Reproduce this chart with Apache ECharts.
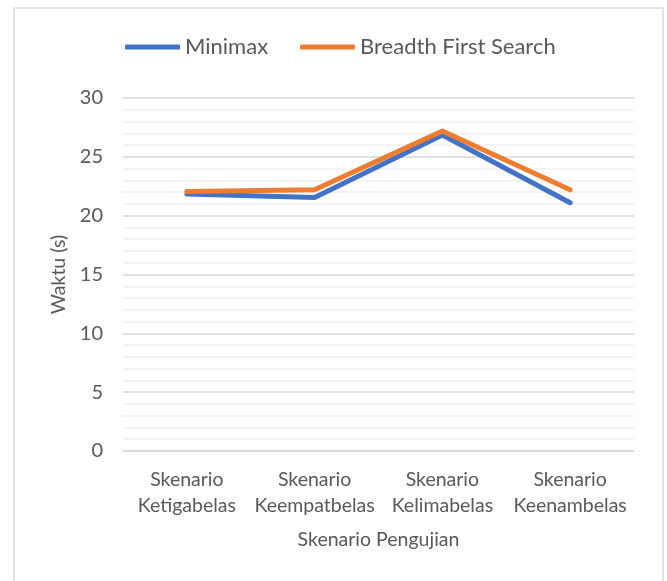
<!DOCTYPE html>
<html>
<head>
<meta charset="utf-8">
<script src="https://cdn.jsdelivr.net/npm/echarts@6/dist/echarts.min.js"></script>
<style>
html,body{margin:0;padding:0;background:#fff;}
#chart{width:667px;height:581px;}
</style>
</head>
<body>
<div id="chart"></div>
<script>
var categories = ['Skenario\nKetigabelas', 'Skenario\nKeempatbelas', 'Skenario\nKelimabelas', 'Skenario\nKeenambelas'];
var minimaxValues = [21.85, 21.55, 26.85, 21.1];
var bfsValues = [22.05, 22.2, 27.2, 22.2];
var seriesNames = ['Minimax', 'Breadth First Search'];
var xAxisTitle = 'Skenario Pengujian';
var yAxisTitle = 'Waktu (s)';

var FONT = 'Lato';
var TXT = '#595959';
var chart = echarts.init(document.getElementById('chart'));
chart.setOption({
  animation: false,
  backgroundColor: '#ffffff',
  graphic: [{
    type: 'rect', z: -10,
    shape: {x: 14, y: 8, width: 649, height: 600},
    style: {fill: '#ffffff', stroke: '#d9d9d9', lineWidth: 1.5}
  }],
  legend: {
    left: 120, top: 31,
    itemWidth: 55, itemHeight: 5, itemGap: 32,
    icon: 'roundRect',
    textStyle: {fontFamily: FONT, fontSize: 22, color: TXT},
    data: seriesNames
  },
  grid: {left: 123, right: 33, top: 98, bottom: 130, containLabel: false},
  xAxis: {
    type: 'category',
    data: categories,
    boundaryGap: true,
    axisLine: {show: true, lineStyle: {color: '#d9d9d9', width: 1.5}},
    axisTick: {show: false},
    axisLabel: {fontFamily: FONT, fontSize: 19.5, color: TXT, lineHeight: 26, margin: 16, interval: 0},
    name: xAxisTitle,
    nameLocation: 'middle',
    nameGap: 79,
    nameTextStyle: {fontFamily: FONT, fontSize: 19.5, color: TXT}
  },
  yAxis: {
    type: 'value',
    min: 0, max: 30, interval: 5,
    axisLine: {show: false},
    axisTick: {show: false},
    axisLabel: {fontFamily: FONT, fontSize: 20, color: TXT, margin: 20},
    splitLine: {show: true, lineStyle: {color: '#d9d9d9', width: 1.5}},
    minorTick: {show: false, splitNumber: 5},
    minorSplitLine: {show: true, lineStyle: {color: '#f0f0f0', width: 1.5}},
    name: yAxisTitle,
    nameLocation: 'middle',
    nameGap: 50,
    nameTextStyle: {fontFamily: FONT, fontSize: 19.5, color: TXT}
  },
  series: [
    {
      name: seriesNames[0], type: 'line', data: minimaxValues,
      symbol: 'none', color: '#4472C4',
      lineStyle: {width: 5, color: '#4472C4', cap: 'round', join: 'round'}
    },
    {
      name: seriesNames[1], type: 'line', data: bfsValues,
      symbol: 'none', color: '#ED7D31',
      lineStyle: {width: 5, color: '#ED7D31', cap: 'round', join: 'round'}
    }
  ]
});
</script>
</body>
</html>
